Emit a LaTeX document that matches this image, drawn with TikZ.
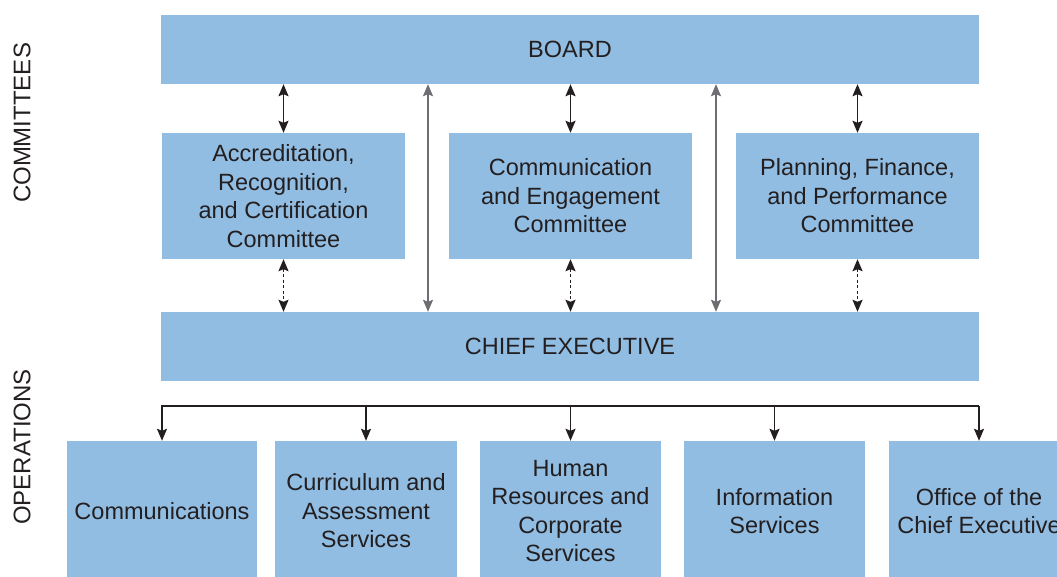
\documentclass[tikz,border=0pt]{standalone}
\usepackage{fontspec}
\setmainfont{Liberation Sans}
\usetikzlibrary{arrows.meta}
\definecolor{boxblue}{HTML}{91BDE3}
\definecolor{txt}{HTML}{231F20}
\definecolor{greyline}{HTML}{6D6E71}
\tikzset{
  box/.style={fill=boxblue, draw=none, text=txt, align=center, inner sep=0pt,
    font=\fontsize{23.5}{28.5}\selectfont},
  arr/.style={line width=1.6pt, draw=txt, {Stealth[length=12pt,width=10pt,inset=2pt]}-{Stealth[length=12pt,width=10pt,inset=2pt]}},
  darr/.style={arr, dash pattern=on 3pt off 2.5pt},
  garr/.style={arr, draw=greyline},
  down/.style={line width=1.6pt, draw=txt, -{Stealth[length=12pt,width=10pt,inset=2pt]}},
  side/.style={text=txt, font=\fontsize{24}{28}\selectfont, rotate=90}
}
\begin{document}
\begin{tikzpicture}[x=1pt,y=-1pt]
\useasboundingbox (0,0) rectangle (1057,577);
\clip (0,0) rectangle (1057,577);
\node[box, minimum width=818pt, minimum height=69pt] (board) at (570,49.5) {BOARD};
\node[box, minimum width=243pt, minimum height=126pt] (c1) at (283.5,196) {Accreditation,\\Recognition,\\and Certification\\Committee};
\node[box, minimum width=243pt, minimum height=126pt] (c2) at (570.5,196) {Communication\\and Engagement\\Committee};
\node[box, minimum width=243pt, minimum height=126pt] (c3) at (857.5,196) {Planning, Finance,\\and Performance\\Committee};
\node[box, minimum width=818pt, minimum height=69pt] (ceo) at (570,346.5) {CHIEF EXECUTIVE};
\node[box, minimum width=190pt, minimum height=140pt] (b1) at (162,511) {Communications};
\node[box, minimum width=182pt, minimum height=140pt] (b2) at (366,511) {Curriculum and\\Assessment\\Services};
\node[box, minimum width=181pt, minimum height=140pt] (b3) at (570.5,511) {Human\\Resources and\\Corporate\\Services};
\node[box, minimum width=181pt, minimum height=140pt] (b4) at (774.5,511) {Information\\Services};
\node[box, minimum width=180pt, minimum height=140pt] (b5) at (979,511) {Office of the\\Chief Executive};
\node[side] (lcom) at (22,123) {COMMITTEES};
\node[side] (lops) at (22,447) {OPERATIONS};
% board <-> committees
\draw[arr] (c1.north) -- (c1.north |- board.south);
\draw[arr] (c2.north) -- (c2.north |- board.south);
\draw[arr] (c3.north) -- (c3.north |- board.south);
% committees <-> ceo (dotted)
\draw[darr] (c1.south) -- (c1.south |- ceo.north);
\draw[darr] (c2.south) -- (c2.south |- ceo.north);
\draw[darr] (c3.south) -- (c3.south |- ceo.north);
% long grey arrows
\coordinate (g1) at (428,0);
\coordinate (g2) at (716,0);
\draw[garr] (board.south -| g1) -- (ceo.north -| g1);
\draw[garr] (board.south -| g2) -- (ceo.north -| g2);
% bus
\coordinate (busL) at (161,406);
\coordinate (busR) at (979,406);
\draw[line width=1.6pt, draw=txt] (busL) -- (busR);
\draw[down] (b1.north |- busL) -- (b1.north);
\draw[down] (b2.north |- busL) -- (b2.north);
\draw[down] (b3.north |- busL) -- (b3.north);
\draw[down] (b4.north |- busL) -- (b4.north);
\draw[down] (b5.north |- busL) -- (b5.north);
\end{tikzpicture}
\end{document}
